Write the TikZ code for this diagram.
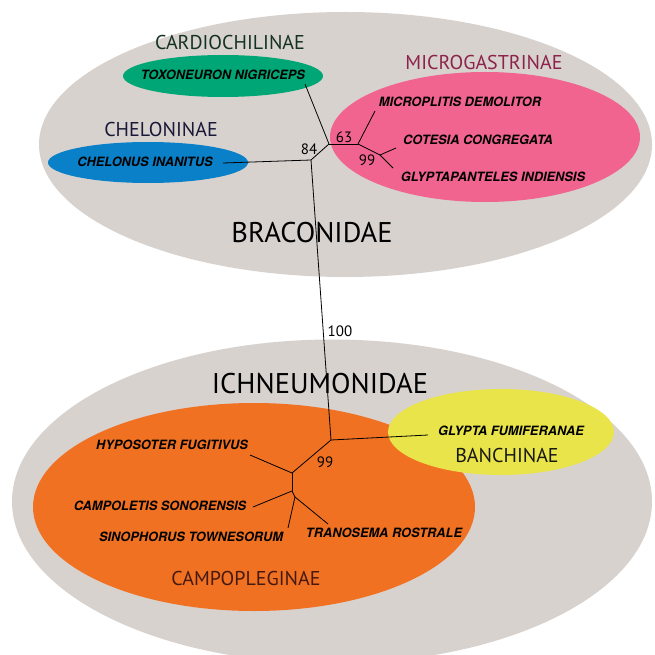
\documentclass[tikz,border=0pt]{standalone}
\usepackage{fontspec}
\setmainfont{PT Sans}
\newfontfamily\spfont{TeX Gyre Heros}
\definecolor{famgray}{RGB}{216,210,207}
\definecolor{cgreen}{RGB}{0,166,118}
\definecolor{cblue}{RGB}{10,128,200}
\definecolor{cpink}{RGB}{240,100,143}
\definecolor{corange}{RGB}{241,113,35}
\definecolor{cyellow}{RGB}{232,228,74}
\definecolor{tgreen}{RGB}{20,50,35}
\definecolor{tnavy}{RGB}{25,25,55}
\definecolor{tmaroon}{RGB}{140,35,75}
\definecolor{tbrown}{RGB}{70,25,15}
\definecolor{tblack}{RGB}{25,25,20}
\tikzset{
  species/.style={inner sep=0pt, font=\spfont\bfseries\itshape\fontsize{12.8}{14}\selectfont, text=black},
  subfam/.style={inner sep=0pt, font=\fontsize{20}{22}\selectfont},
  family/.style={inner sep=0pt, font=\fontsize{28.5}{30}\selectfont, text=black},
  support/.style={inner sep=0pt, font=\fontsize{15}{16}\selectfont, text=black},
  branch/.style={draw=black, line width=0.8pt, line join=round}
}
\begin{document}
\begin{tikzpicture}[x=1pt,y=-1pt]
\clip (0,0) rectangle (654,655);
% families
\fill[famgray] (345.5,144.5) ellipse [x radius=306.5pt, y radius=132.5pt];
\fill[famgray] (332,501.5) ellipse [x radius=320pt, y radius=162pt];
% subfamilies
\fill[cgreen] (223,76) ellipse [x radius=100pt, y radius=21pt];
\fill[cblue] (148,162.5) ellipse [x radius=100pt, y radius=20.5pt];
\fill[cpink] (485,137) ellipse [x radius=155pt, y radius=65pt];
\fill[corange] (254,507) ellipse [x radius=221pt, y radius=104pt];
\fill[cyellow] (501,432) ellipse [x radius=113pt, y radius=43pt];

% labels
\node[subfam, text=tgreen] (cardio) at (230,43) {CARDIOCHILINAE};
\node[subfam, text=tnavy] (chelon) at (161,130) {CHELONINAE};
\node[subfam, text=tmaroon] (microg) at (484,63) {MICROGASTRINAE};
\node[subfam, text=tblack] (banch) at (507,455) {BANCHINAE};
\node[subfam, text=tbrown] (campo) at (246,578) {CAMPOPLEGINAE};
\node[family] (braco) at (312,233) {BRACONIDAE};
\node[family] (ichneu) at (320,384) {ICHNEUMONIDAE};

\node[species] (toxo) at (223,75) {TOXONEURON NIGRICEPS};
\node[species] (chel) at (145,162) {CHELONUS INANITUS};
\node[species] (micro) at (460,102) {MICROPLITIS DEMOLITOR};
\node[species] (cote) at (478,140) {COTESIA CONGREGATA};
\node[species] (glypa) at (493,177) {GLYPTAPANTELES INDIENSIS};
\node[species] (hypo) at (172,445) {HYPOSOTER FUGITIVUS};
\node[species] (campol) at (160,506) {CAMPOLETIS SONORENSIS};
\node[species] (sino) at (191,537) {SINOPHORUS TOWNESORUM};
\node[species] (trano) at (384,533) {TRANOSEMA ROSTRALE};
\node[species] (glyfu) at (511,431) {GLYPTA FUMIFERANAE};

% tree coordinates
\coordinate (A) at (311,160);
\coordinate (B) at (329,144);
\coordinate (C) at (358,144);
\coordinate (D) at (380,155);
\coordinate (E) at (331,440);
\coordinate (F) at (292,473);
\coordinate (G) at (292,491);
\coordinate (H) at (295,497);
\coordinate (tToxo) at (305,84);
\coordinate (tChel) at (223,163);
\coordinate (tMicro) at (375,111);
\coordinate (tCote) at (396,148);
\coordinate (tGlypa) at (393,168);
\coordinate (tGlyfu) at (428,435);
\coordinate (tHypo) at (250,455);
\coordinate (tCampol) at (253,507);
\coordinate (tSino) at (288,528);
\coordinate (tTrano) at (328,524);

% branches
\draw[branch] (tChel) -- (A);
\draw[branch] (A) -- (B);
\draw[branch] (tToxo) -- (B);
\draw[branch] (B) -- (C);
\draw[branch] (C) -- (tMicro);
\draw[branch] (C) -- (D);
\draw[branch] (D) -- (tCote);
\draw[branch] (D) -- (tGlypa);
\draw[branch] (A) -- (E);
\draw[branch] (E) -- (tGlyfu);
\draw[branch] (E) -- (F);
\draw[branch] (F) -- (tHypo);
\draw[branch] (F) -- (G);
\draw[branch] (G) -- (tCampol);
\draw[branch] (G) -- (H);
\draw[branch] (H) -- (tSino);
\draw[branch] (H) -- (tTrano);

% support values
\node[support] (s84) at (309,149) {84};
\node[support] (s63) at (344,137) {63};
\node[support] (s99a) at (367,160) {99};
\node[support] (s100) at (340,331) {100};
\node[support] (s99b) at (325,462) {99};
\end{tikzpicture}
\end{document}
